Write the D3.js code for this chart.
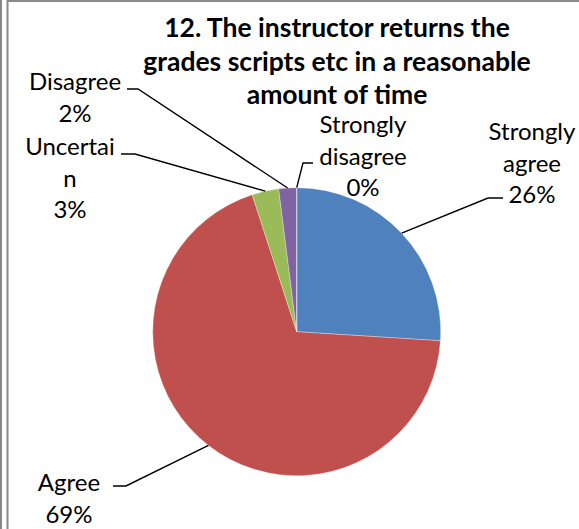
<!DOCTYPE html>
<html>
<head>
<meta charset="utf-8">
<script src="https://cdn.jsdelivr.net/npm/d3@7/dist/d3.min.js"></script>
<style>
  body { margin: 0; background: #fff; }
  svg { display: block; }
</style>
</head>
<body>
<div id="chart"></div>
<script>
// Data
const categories = ['Strongly agree', 'Agree', 'Uncertain', 'Disagree', 'Strongly disagree'];
const values = [26, 69, 3, 2, 0];
const labelLines = [
  ['Strongly', 'agree', '26%'],
  ['Agree', '69%'],
  ['Uncertai', 'n', '3%'],
  ['Disagree', '2%'],
  ['Strongly', 'disagree', '0%']
];
const titleLines = ['12. The instructor returns the', 'grades scripts etc in a reasonable', 'amount of time'];
const colors = ['#4F81BD', '#C0504D', '#9BBB59', '#8064A2', '#4BACC6'];

// Layout
const width = 579, height = 529;
const cx = 296.7, cy = 331.7, radius = 144;
const lineH = 31.5;
// label text anchor (center x, first baseline) and elbow of the leader line
const labelPos = [
  { x: 532, y: 140, ex: 503, ey: 198, hx: 488 },
  { x: 69, y: 491, ex: 113, ey: 486, hx: 126 },
  { x: 70, y: 155, ex: 121, ey: 154, hx: 135 },
  { x: 75, y: 90, ex: 127, ey: 89, hx: 138 },
  { x: 363, y: 133, ex: 313, ey: 163, hx: 303 }
];

const svg = d3.select('#chart').append('svg')
  .attr('width', width)
  .attr('height', height);

// frame
svg.append('rect').attr('x', 0).attr('y', 0).attr('width', width).attr('height', height).attr('fill', '#fff');
svg.append('line').attr('x1', 1).attr('x2', 1).attr('y1', 0).attr('y2', height)
  .attr('stroke', '#8a8a8a').attr('stroke-width', 2);
svg.append('line').attr('x1', 7.5).attr('x2', 7.5).attr('y1', 0).attr('y2', height)
  .attr('stroke', '#8a8a8a').attr('stroke-width', 2);
svg.append('line').attr('x1', 7).attr('x2', width).attr('y1', 1).attr('y2', 1)
  .attr('stroke', '#8a8a8a').attr('stroke-width', 2);

// title
svg.append('text')
  .attr('x', 337)
  .attr('y', 37)
  .attr('text-anchor', 'middle')
  .style('font-family', 'Lato, "Open Sans", sans-serif')
  .style('font-weight', 700)
  .style('font-size', '26.5px')
  .attr('fill', '#000')
  .selectAll('tspan')
  .data(titleLines)
  .join('tspan')
  .attr('x', 337)
  .attr('dy', (d, i) => i === 0 ? 0 : 33.5)
  .text(d => d);

// pie
const pie = d3.pie().value(d => d).sort(null);
const arc = d3.arc().innerRadius(0).outerRadius(radius);
const arcs = pie(values);

const g = svg.append('g').attr('transform', `translate(${cx},${cy})`);
g.selectAll('path')
  .data(arcs)
  .join('path')
  .attr('d', arc)
  .attr('fill', (d, i) => colors[i])
  .attr('stroke', '#fff')
  .attr('stroke-opacity', 0.5)
  .attr('stroke-width', 0.6);

// leader lines
arcs.forEach((d, i) => {
  const a = (d.startAngle + d.endAngle) / 2;
  const px = cx + radius * Math.sin(a);
  const py = cy - radius * Math.cos(a);
  const p = labelPos[i];
  svg.append('polyline')
    .attr('points', `${p.ex},${p.ey} ${p.hx},${p.ey} ${px},${py}`)
    .attr('fill', 'none')
    .attr('stroke', '#000')
    .attr('stroke-width', 1.4);
});

// labels
labelLines.forEach((lines, i) => {
  const p = labelPos[i];
  svg.append('text')
    .attr('text-anchor', 'middle')
    .style('font-family', 'Lato, "Open Sans", sans-serif')
    .style('font-size', '24px')
    .attr('fill', '#000')
    .selectAll('tspan')
    .data(lines)
    .join('tspan')
    .attr('x', p.x)
    .attr('y', (d, j) => p.y + j * lineH)
    .text(d => d);
});
</script>
</body>
</html>
